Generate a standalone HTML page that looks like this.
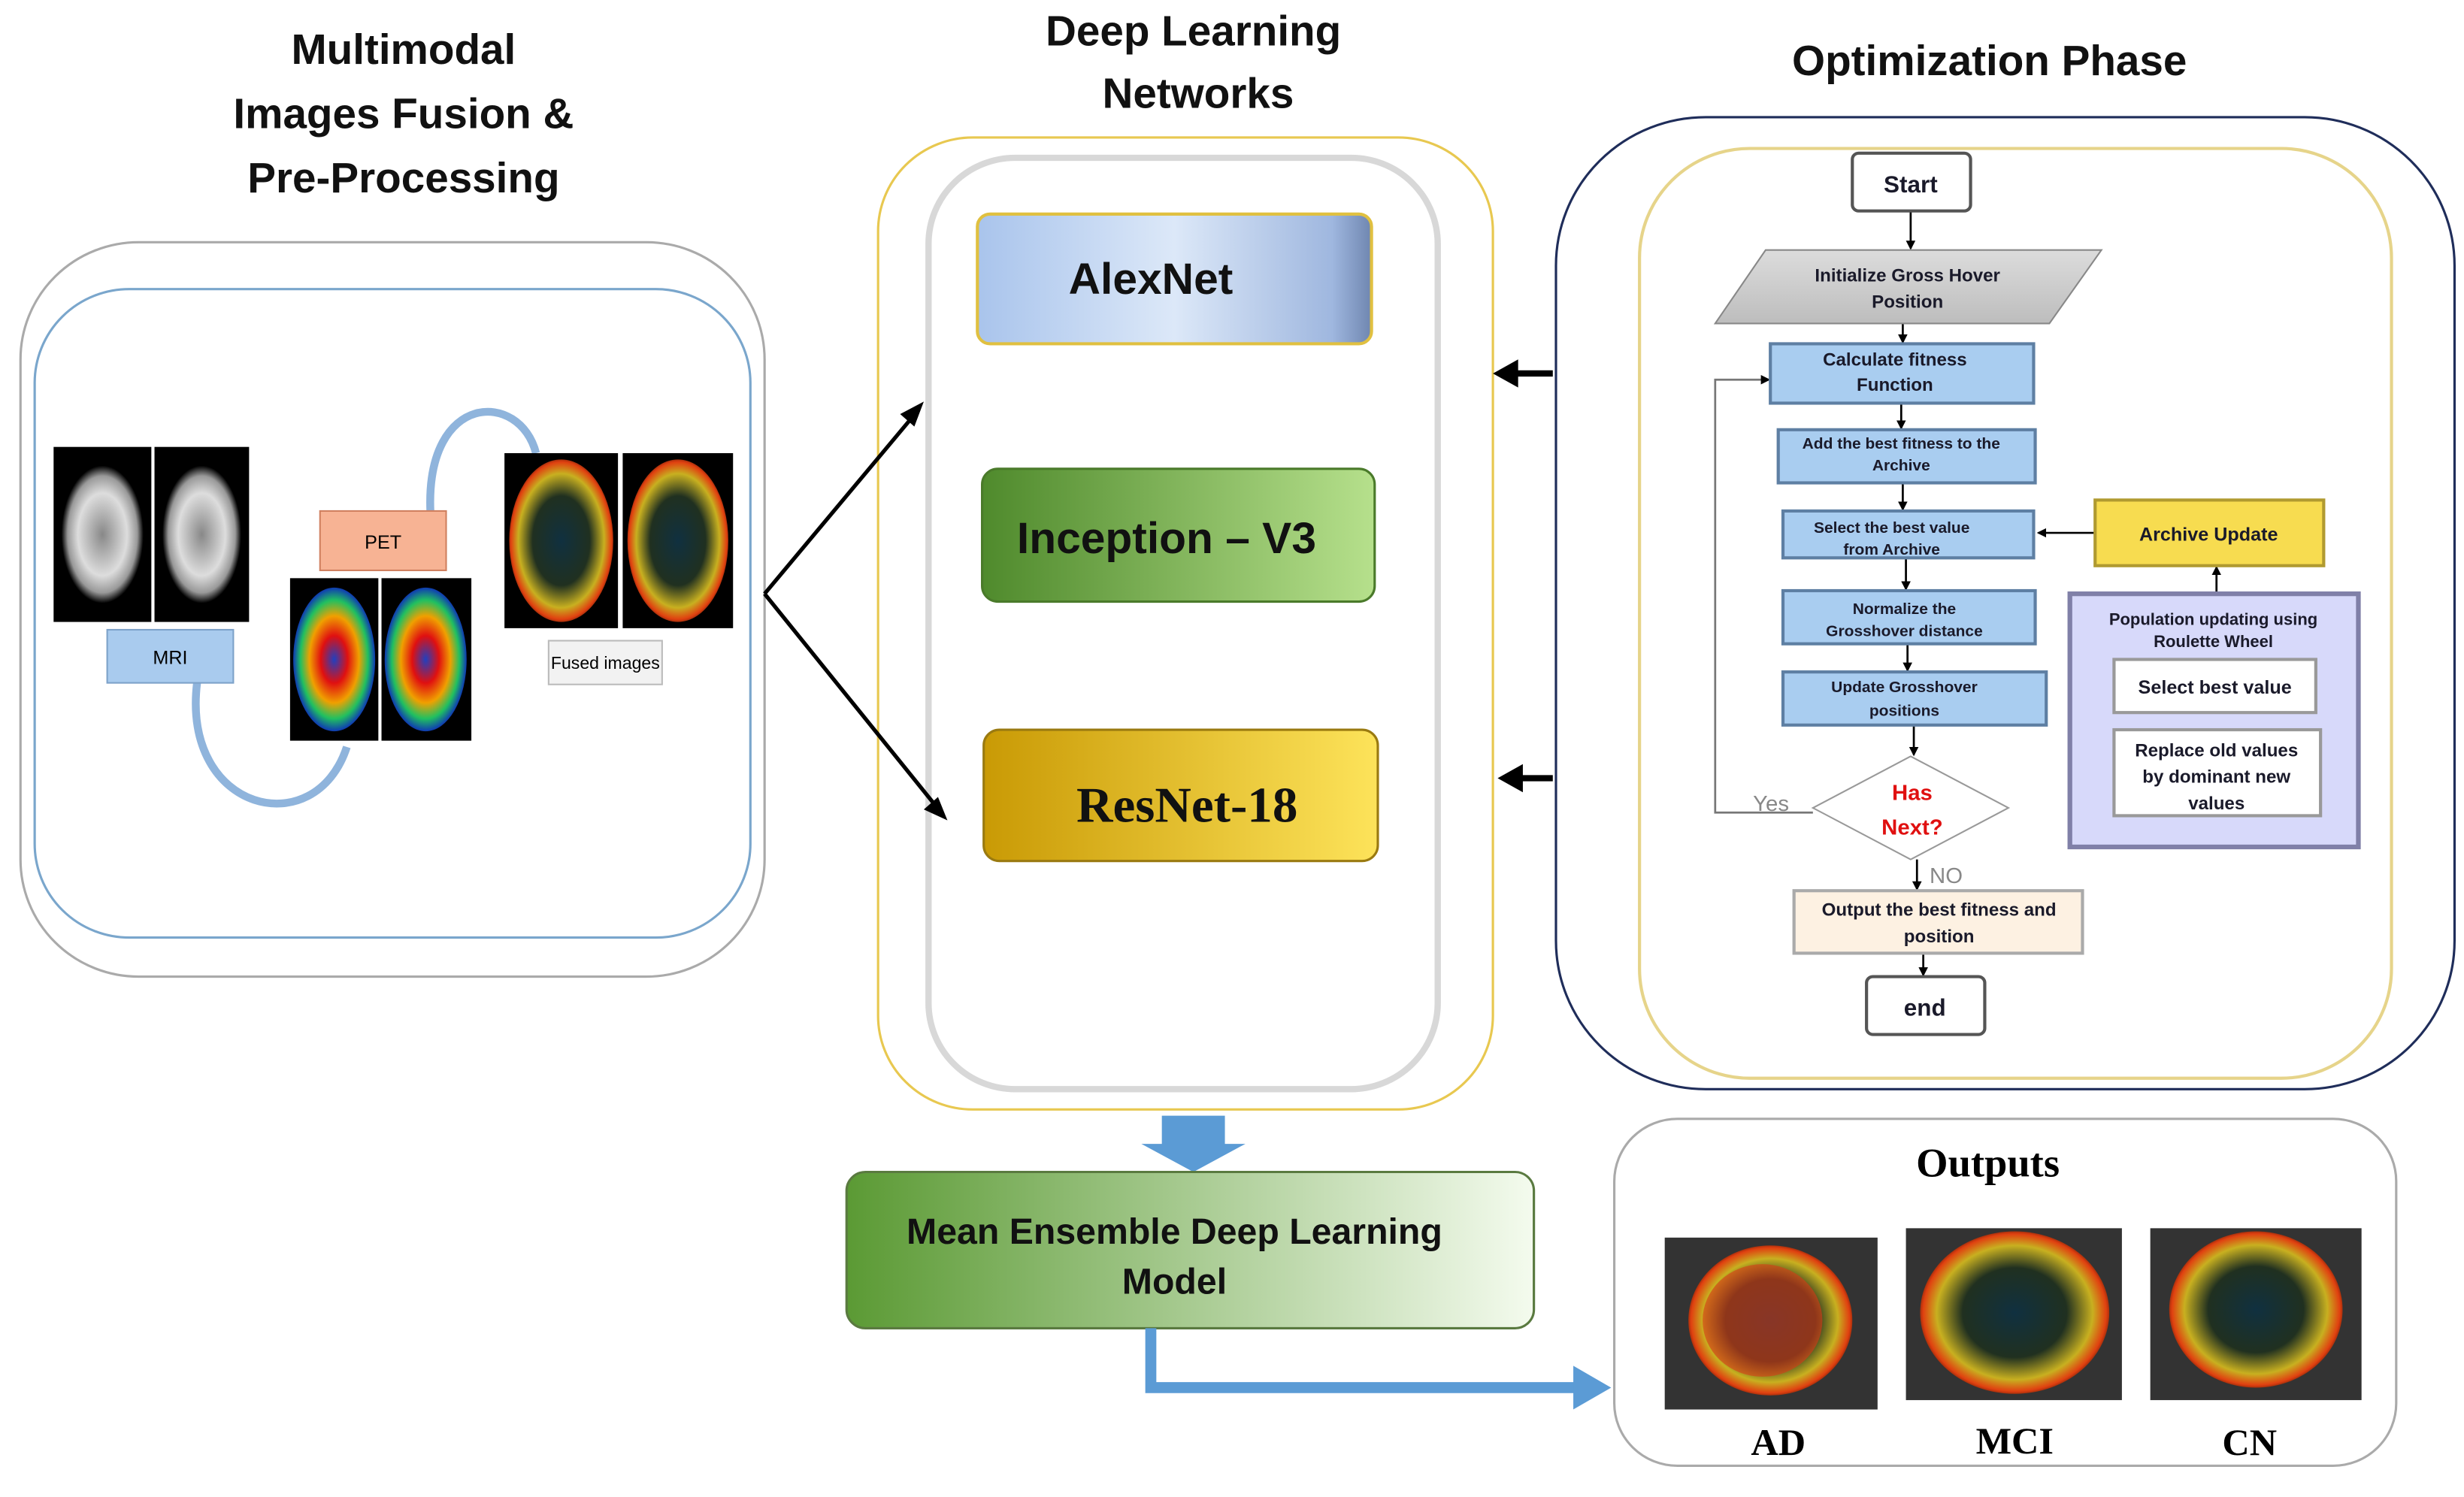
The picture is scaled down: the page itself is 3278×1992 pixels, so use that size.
<!DOCTYPE html>
<html><head><meta charset="utf-8"><style>
html,body{margin:0;padding:0;background:#fff;}
svg{display:block;}
</style></head><body>
<svg width="3278" height="1992" viewBox="0 0 1563 958" preserveAspectRatio="none" xmlns="http://www.w3.org/2000/svg" font-family="Liberation Sans, sans-serif">
<defs>
<marker id="ah" markerWidth="6" markerHeight="6" refX="5" refY="3" orient="auto" markerUnits="userSpaceOnUse"><path d="M0,0 L6,3 L0,6 z" fill="#000"/></marker>
<linearGradient id="gAlex" x1="0" y1="0" x2="1" y2="0"><stop offset="0" stop-color="#a9c4ec"/><stop offset="0.5" stop-color="#dce8f8"/><stop offset="0.9" stop-color="#9fb7df"/><stop offset="1" stop-color="#6f86b0"/></linearGradient>
<linearGradient id="gInc" x1="0" y1="0" x2="1" y2="0"><stop offset="0" stop-color="#4f8a2c"/><stop offset="1" stop-color="#b6e08c"/></linearGradient>
<linearGradient id="gRes" x1="0" y1="0" x2="1" y2="0"><stop offset="0" stop-color="#c99a05"/><stop offset="1" stop-color="#fde35a"/></linearGradient>
<linearGradient id="gMean" x1="0" y1="0" x2="1" y2="0"><stop offset="0" stop-color="#5b9a34"/><stop offset="1" stop-color="#f4fbee"/></linearGradient>
<linearGradient id="gPara" x1="0" y1="0" x2="0" y2="1"><stop offset="0" stop-color="#dcdcdc"/><stop offset="1" stop-color="#bdbdbd"/></linearGradient>
<radialGradient id="gPet" cx="0.5" cy="0.5" r="0.55"><stop offset="0" stop-color="#2040c0"/><stop offset="0.3" stop-color="#e01010"/><stop offset="0.55" stop-color="#f0a000"/><stop offset="0.75" stop-color="#20c060"/><stop offset="0.9" stop-color="#1040b0"/><stop offset="1" stop-color="#000"/></radialGradient>
<radialGradient id="gFuse" cx="0.5" cy="0.5" r="0.55"><stop offset="0" stop-color="#103040"/><stop offset="0.5" stop-color="#203020"/><stop offset="0.75" stop-color="#c8b020"/><stop offset="0.88" stop-color="#e04010"/><stop offset="1" stop-color="#000"/></radialGradient>
<radialGradient id="gMri" cx="0.5" cy="0.5" r="0.5"><stop offset="0" stop-color="#888"/><stop offset="0.6" stop-color="#ddd"/><stop offset="0.85" stop-color="#999"/><stop offset="1" stop-color="#000"/></radialGradient>
</defs>

<g font-weight="bold" font-size="27" fill="#111" text-anchor="middle">
<text x="256" y="41">Multimodal</text>
<text x="256" y="82">Images Fusion &amp;</text>
<text x="256" y="123">Pre-Processing</text>
<text x="757" y="29">Deep Learning</text>
<text x="760" y="69">Networks</text>
<text x="1262" y="48">Optimization Phase</text>
</g>

<rect x="13" y="155" width="472" height="470" rx="75" fill="#fff" stroke="#aaa" stroke-width="1.5"/>
<rect x="22" y="185" width="454" height="415" rx="60" fill="#fff" stroke="#7aa6cc" stroke-width="1.5"/>
<path d="M125 437 C 115 520, 200 540, 220 478" fill="none" stroke="#8fb4dc" stroke-width="5"/>
<path d="M273 327 C 270 250, 330 250, 340 290" fill="none" stroke="#8fb4dc" stroke-width="5"/>
<rect x="34" y="286" width="62" height="112" fill="#000"/>
<rect x="98" y="286" width="60" height="112" fill="#000"/>
<ellipse cx="65" cy="342" rx="26" ry="44" fill="url(#gMri)"/>
<ellipse cx="128" cy="342" rx="25" ry="44" fill="url(#gMri)"/>
<rect x="68" y="403" width="80" height="34" fill="#a9cbee" stroke="#7da2c9"/>
<text x="108" y="425" font-size="12" text-anchor="middle">MRI</text>
<rect x="203" y="327" width="80" height="38" fill="#f7b394" stroke="#d08060"/>
<text x="243" y="351" font-size="12" text-anchor="middle">PET</text>
<rect x="184" y="370" width="56" height="104" fill="#000"/>
<rect x="242" y="370" width="57" height="104" fill="#000"/>
<ellipse cx="212" cy="422" rx="26" ry="46" fill="url(#gPet)"/>
<ellipse cx="270" cy="422" rx="26" ry="46" fill="url(#gPet)"/>
<rect x="320" y="290" width="72" height="112" fill="#000"/>
<rect x="395" y="290" width="70" height="112" fill="#000"/>
<ellipse cx="356" cy="346" rx="33" ry="52" fill="url(#gFuse)"/>
<ellipse cx="430" cy="346" rx="32" ry="52" fill="url(#gFuse)"/>
<rect x="348" y="410" width="72" height="28" fill="#f2f2f2" stroke="#bbb"/>
<text x="384" y="428" font-size="11" text-anchor="middle">Fused images</text>

<rect x="557" y="88" width="390" height="622" rx="60" fill="#fff" stroke="#e8c850" stroke-width="1.5"/>
<rect x="589" y="101" width="323" height="596" rx="55" fill="#fff" stroke="#d8d8d8" stroke-width="4"/>
<rect x="620" y="137" width="250" height="83" rx="8" fill="url(#gAlex)" stroke="#e0c040" stroke-width="2"/>
<text x="730" y="188" font-size="28" font-weight="bold" text-anchor="middle" fill="#111">AlexNet</text>
<rect x="623" y="300" width="249" height="85" rx="10" fill="url(#gInc)" stroke="#4a7a2a" stroke-width="1.5"/>
<text x="740" y="354" font-size="28" font-weight="bold" text-anchor="middle" fill="#111">Inception – V3</text>
<rect x="624" y="467" width="250" height="84" rx="10" fill="url(#gRes)" stroke="#9a7a10" stroke-width="1.5"/>
<text x="753" y="526" font-size="32" font-weight="bold" text-anchor="middle" fill="#111" style="font-family:'Liberation Serif',serif">ResNet-18</text>

<g stroke="#000" stroke-width="2.5" fill="none">
<line x1="485" y1="380" x2="582" y2="263"/>
<line x1="485" y1="380" x2="597" y2="520"/>
</g>
<polygon points="586,257 571,265 580,273" fill="#000"/>
<polygon points="601,525 586,518 595,510" fill="#000"/>

<g stroke="#000" stroke-width="4"><line x1="960" y1="239" x2="985" y2="239"/><line x1="963" y1="498" x2="985" y2="498"/></g>
<polygon points="947,239 963,230 963,248" fill="#000"/>
<polygon points="950,498 966,489 966,507" fill="#000"/>

<rect x="987" y="75" width="570" height="622" rx="95" fill="#fff" stroke="#1f2d5a" stroke-width="1.5"/>
<rect x="1040" y="95" width="477" height="595" rx="70" fill="#fff" stroke="#e6d48a" stroke-width="2"/>

<g stroke="#000" stroke-width="1.3" marker-end="url(#ah)">
<line x1="1212" y1="135" x2="1212" y2="159"/>
<line x1="1207" y1="207" x2="1207" y2="219"/>
<line x1="1206" y1="258" x2="1206" y2="274"/>
<line x1="1207" y1="309" x2="1207" y2="326"/>
<line x1="1209" y1="357" x2="1209" y2="377"/>
<line x1="1210" y1="412" x2="1210" y2="429"/>
<line x1="1214" y1="464" x2="1214" y2="483"/>
<line x1="1216" y1="550" x2="1216" y2="569"/>
<line x1="1220" y1="610" x2="1220" y2="624"/>
<line x1="1329" y1="341" x2="1293" y2="341"/>
<line x1="1406" y1="380" x2="1406" y2="363"/>
</g>
<polyline points="1150,520 1088,520 1088,243 1122,243" fill="none" stroke="#777" stroke-width="1.3" marker-end="url(#ah)"/>

<g font-weight="bold" text-anchor="middle" fill="#1a1a2a">
<rect x="1175" y="98" width="75" height="37" rx="4" fill="#fff" stroke="#555" stroke-width="2"/>
<text x="1212" y="123" font-size="15">Start</text>
<polygon points="1120,160 1333,160 1300,207 1088,207" fill="url(#gPara)" stroke="#888"/>
<text x="1210" y="180" font-size="11.5">Initialize Gross Hover</text>
<text x="1210" y="197" font-size="11.5">Position</text>
<rect x="1123" y="220" width="167" height="38" fill="#a9cdf0" stroke="#5e7fa3" stroke-width="2"/>
<text x="1202" y="234" font-size="11.5">Calculate fitness</text>
<text x="1202" y="250" font-size="11.5">Function</text>
<rect x="1128" y="275" width="163" height="34" fill="#a9cdf0" stroke="#5e7fa3" stroke-width="2"/>
<text x="1206" y="287" font-size="10">Add the best fitness to the</text>
<text x="1206" y="301" font-size="10">Archive</text>
<rect x="1131" y="327" width="159" height="30" fill="#a9cdf0" stroke="#5e7fa3" stroke-width="2"/>
<text x="1200" y="341" font-size="10">Select the best value</text>
<text x="1200" y="355" font-size="10">from Archive</text>
<rect x="1131" y="378" width="160" height="34" fill="#a9cdf0" stroke="#5e7fa3" stroke-width="2"/>
<text x="1208" y="393" font-size="10">Normalize the</text>
<text x="1208" y="407" font-size="10">Grosshover distance</text>
<rect x="1131" y="430" width="167" height="34" fill="#a9cdf0" stroke="#5e7fa3" stroke-width="2"/>
<text x="1208" y="443" font-size="10">Update Grosshover</text>
<text x="1208" y="458" font-size="10">positions</text>
<polygon points="1212,484 1274,517 1212,550 1150,517" fill="#fff" stroke="#999"/>
<text x="1213" y="512" font-size="14" fill="#e01010">Has</text>
<text x="1213" y="534" font-size="14" fill="#e01010">Next?</text>
<rect x="1138" y="570" width="183" height="40" fill="#fdf1e2" stroke="#aaa" stroke-width="2"/>
<text x="1230" y="586" font-size="11.5">Output the best fitness and</text>
<text x="1230" y="603" font-size="11.5">position</text>
<rect x="1184" y="625" width="75" height="37" rx="4" fill="#fff" stroke="#555" stroke-width="2"/>
<text x="1221" y="650" font-size="15">end</text>
<rect x="1329" y="320" width="145" height="42" fill="#f7dc50" stroke="#b09a30" stroke-width="2"/>
<text x="1401" y="346" font-size="12">Archive Update</text>
<rect x="1313" y="380" width="183" height="162" fill="#d7d9fa" stroke="#8080a8" stroke-width="3"/>
<text x="1404" y="400" font-size="10.5">Population updating using</text>
<text x="1404" y="414" font-size="10.5">Roulette Wheel</text>
<rect x="1341" y="422" width="128" height="34" fill="#fff" stroke="#999" stroke-width="2"/>
<text x="1405" y="444" font-size="12">Select best value</text>
<rect x="1341" y="467" width="131" height="55" fill="#fff" stroke="#999" stroke-width="2"/>
<text x="1406" y="484" font-size="11.5">Replace old values</text>
<text x="1406" y="501" font-size="11.5">by dominant new</text>
<text x="1406" y="518" font-size="11.5">values</text>
</g>
<text x="1112" y="519" font-size="14" fill="#888">Yes</text>
<text x="1224" y="565" font-size="14" fill="#888">NO</text>

<polygon points="737,714 777,714 777,732 790,732 757,750 724,732 737,732" fill="#5b9bd5"/>
<rect x="537" y="750" width="436" height="100" rx="12" fill="url(#gMean)" stroke="#5a7a40" stroke-width="1.5"/>
<text x="745" y="796" font-size="23" font-weight="bold" text-anchor="middle" fill="#111">Mean Ensemble Deep Learning</text>
<text x="745" y="828" font-size="23" font-weight="bold" text-anchor="middle" fill="#111">Model</text>
<polyline points="730,850 730,888 1000,888" fill="none" stroke="#5b9bd5" stroke-width="7"/>
<polygon points="998,874 1022,888 998,902" fill="#5b9bd5"/>

<rect x="1024" y="716" width="496" height="222" rx="40" fill="#fff" stroke="#aaa" stroke-width="1.5"/>
<text x="1261" y="753" font-size="26" font-weight="bold" text-anchor="middle" style="font-family:'Liberation Serif',serif">Outputs</text>
<rect x="1056" y="792" width="135" height="110" fill="#333"/>
<ellipse cx="1123" cy="845" rx="52" ry="48" fill="url(#gFuse)"/>
<ellipse cx="1118" cy="845" rx="38" ry="36" fill="#d83a18" opacity="0.6"/>
<rect x="1209" y="786" width="137" height="110" fill="#333"/>
<ellipse cx="1278" cy="840" rx="60" ry="52" fill="url(#gFuse)"/>
<rect x="1364" y="786" width="134" height="110" fill="#333"/>
<ellipse cx="1431" cy="838" rx="55" ry="50" fill="url(#gFuse)"/>
<g font-weight="bold" font-size="24" text-anchor="middle" style="font-family:'Liberation Serif',serif">
<text x="1128" y="931">AD</text>
<text x="1278" y="930">MCI</text>
<text x="1427" y="931">CN</text>
</g>
</svg>
</body></html>
